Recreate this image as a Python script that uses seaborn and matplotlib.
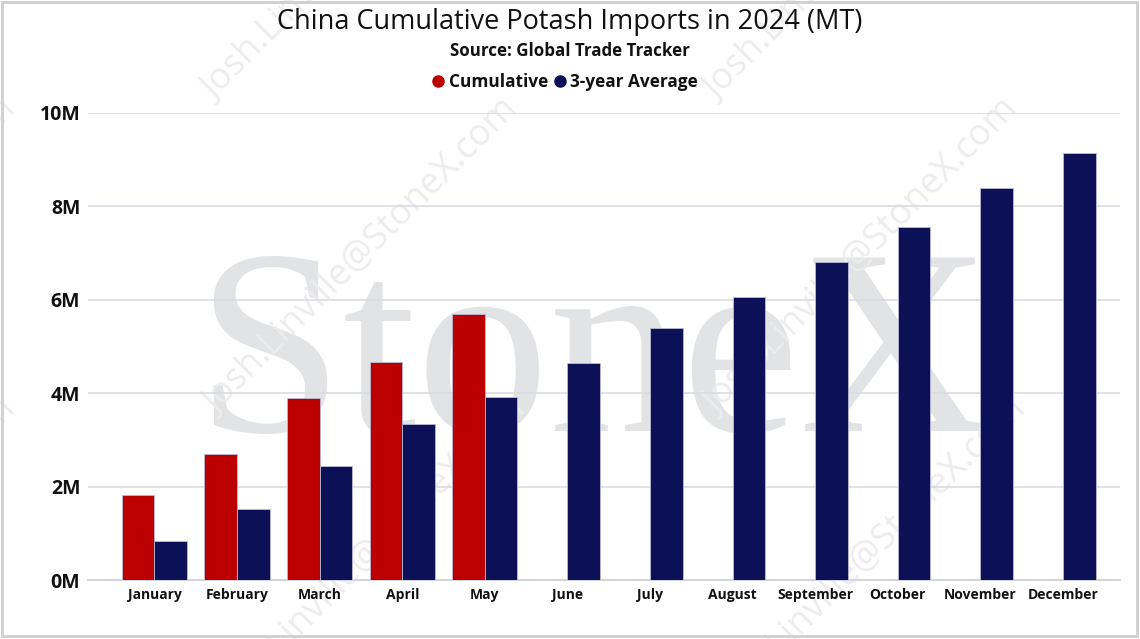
import numpy as np
import pandas as pd
import seaborn as sns
import matplotlib.pyplot as plt
from matplotlib.lines import Line2D
from matplotlib.patches import Rectangle
from matplotlib.ticker import FuncFormatter

months = ['January', 'February', 'March', 'April', 'May', 'June', 'July',
          'August', 'September', 'October', 'November', 'December']
cumulative = [1.82e6, 2.70e6, 3.90e6, 4.67e6, 5.70e6,
              np.nan, np.nan, np.nan, np.nan, np.nan, np.nan, np.nan]
avg_3yr = [0.835e6, 1.52e6, 2.44e6, 3.34e6, 3.92e6, 4.65e6,
           5.40e6, 6.06e6, 6.81e6, 7.56e6, 8.39e6, 9.14e6]
series_names = ['Cumulative', '3-year Average']
colors = ['#BC0000', '#0C1157']

df = pd.DataFrame({
    'month': months * 2,
    'series': [series_names[0]] * 12 + [series_names[1]] * 12,
    'value': cumulative + avg_3yr,
})

sns.set_theme(style='white')
plt.rcParams['font.family'] = ['Open Sans', 'DejaVu Sans']

fig = plt.figure(figsize=(11.4, 6.39), dpi=100)
ax = fig.add_axes([88 / 1140, 1 - 580 / 639, 1032 / 1140, (580 - 113) / 639])
ax.patch.set_alpha(0)

sns.barplot(data=df, x='month', y='value', hue='series', order=months,
            hue_order=series_names, palette=colors, saturation=1, width=0.79,
            edgecolor='#b9bbd6', linewidth=0.6, legend=False, ax=ax, zorder=3)

ax.set_ylim(0, 1e7)
ax.set_xlim(-0.805, 11.69)
ax.set_yticks([0, 2e6, 4e6, 6e6, 8e6, 1e7])
ax.yaxis.set_major_formatter(FuncFormatter(lambda v, p: f'{v / 1e6:.0f}M'))
ax.set_axisbelow(True)
ax.grid(axis='y', color='#d9dce2', linewidth=1.2)
for s in ['top', 'right', 'left']:
    ax.spines[s].set_visible(False)
ax.spines['bottom'].set_color('#d3d6dd')
ax.spines['bottom'].set_linewidth(1.5)
ax.set_xlabel('')
ax.set_ylabel('')
ax.tick_params(axis='y', length=0, pad=5.5)
ax.tick_params(axis='x', length=0, pad=5.5)
ax.set_yticklabels(ax.get_yticklabels(), fontsize=14, fontweight='bold', color='#111111')
ax.set_xticklabels(months, fontsize=10, fontweight='bold', color='#111111')

# watermarks
ax.text(593 / 1140, 1 - 431 / 639, 'StoneX', transform=fig.transFigure,
        ha='center', va='baseline', family='Liberation Serif', fontsize=191,
        color='#e2e3e5', zorder=0, clip_on=False)
for cx, cy in [(-140, -57), (360, -57), (862, -57),
               (-140, 257), (362, 257), (862, 257),
               (-140, 557), (370, 557), (870, 557)]:
    ax.text(cx / 1140, 1 - cy / 639, 'Josh.Linville@StoneX.com', rotation=45,
            transform=fig.transFigure, ha='center', va='center', fontsize=26,
            color='#ededed', zorder=0, rotation_mode='anchor', clip_on=False)

fig.text(0.5, 1 - 22 / 639, 'China Cumulative Potash Imports in 2024 (MT)',
         ha='center', va='center', fontsize=19.5, color='#111111')
fig.text(0.5, 1 - 51 / 639, 'Source: Global Trade Tracker',
         ha='center', va='center', fontsize=12.2, fontweight='bold', color='#111111')

handles = [Line2D([], [], marker='o', linestyle='', markersize=8, color=c)
           for c in colors]
leg = fig.legend(handles, series_names, loc='center', ncol=2,
                 bbox_to_anchor=(563 / 1140, 1 - 82 / 639), frameon=False,
                 handletextpad=0.0, columnspacing=0.1, handlelength=1.2,
                 prop={'weight': 'bold', 'size': 12.4})
for t in leg.get_texts():
    t.set_color('#111111')

fig.patches.append(Rectangle((0.002, 0.004), 0.995, 0.993, transform=fig.transFigure,
                             fill=False, edgecolor='#cfcfcf', linewidth=2))

fig.savefig('out.png', dpi=100)
